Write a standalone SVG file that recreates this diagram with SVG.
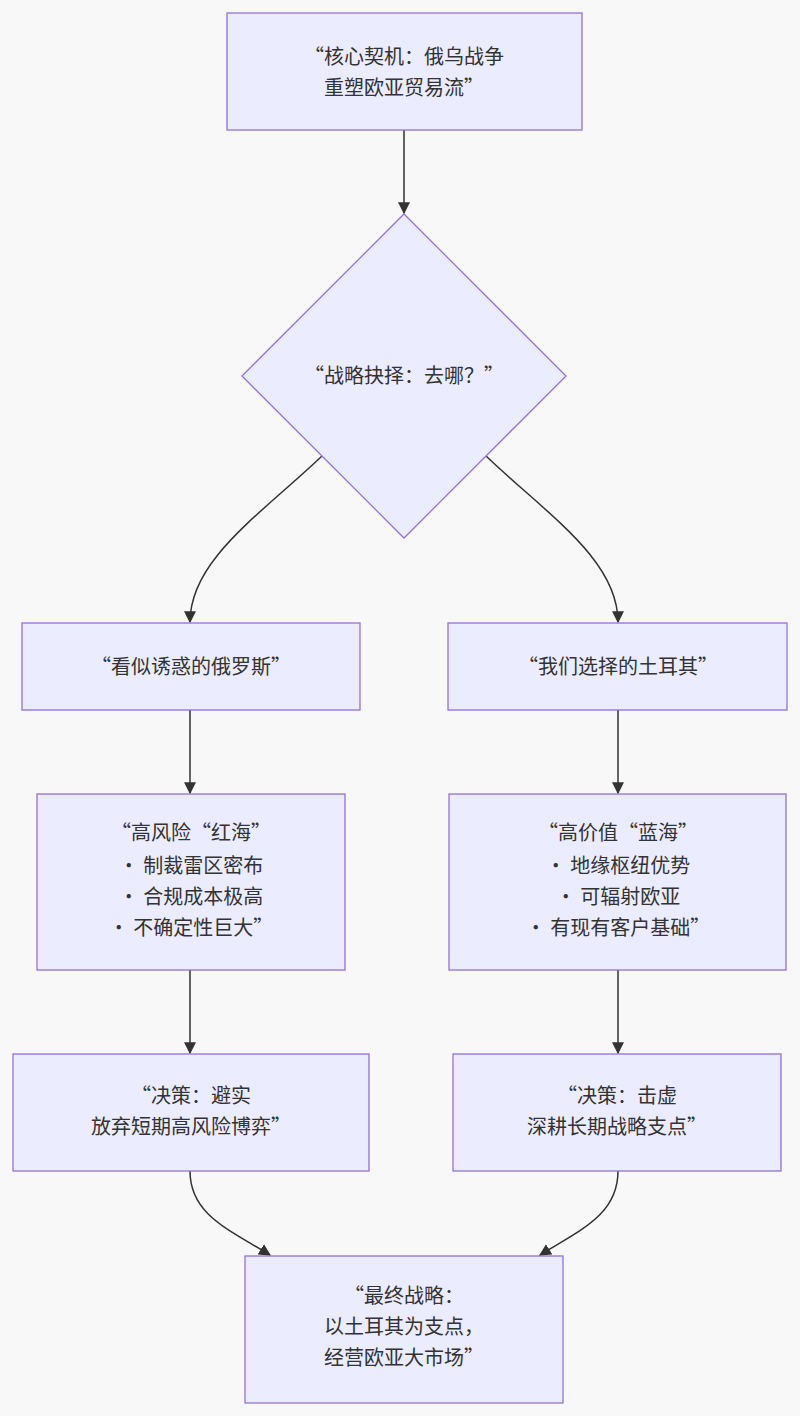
<svg xmlns="http://www.w3.org/2000/svg" width="800" height="1416" viewBox="0 0 800 1416">
<style>
.n{fill:#ececff;stroke:#9370db;stroke-width:1.3}
text{font-family:"Noto Sans CJK SC","Liberation Sans",sans-serif;font-size:20px;fill:#333;text-anchor:middle}
.e{fill:none;stroke:#333;stroke-width:1.5;marker-end:url(#a)}
</style>
<defs><marker id="a" viewBox="0 0 10 10" refX="9" refY="5" markerWidth="8" markerHeight="8" orient="auto"><path d="M0,0L10,5L0,10z" fill="#333"/></marker></defs>
<rect width="800" height="1416" fill="#f8f8f8"/>
<g id="edges">
<path class="e" d="M404,130V213"/>
<path class="e" d="M322,456C260,515 190,560 190,622"/>
<path class="e" d="M486,456C548,515 618,560 618,622"/>
<path class="e" d="M190,710V793"/>
<path class="e" d="M618,710V793"/>
<path class="e" d="M190,970V1053"/>
<path class="e" d="M618,970V1053"/>
<path class="e" d="M190,1171C190,1215 230,1230 270,1255"/>
<path class="e" d="M618,1171C618,1215 580,1230 540,1255"/>
</g>
<g id="A"><rect class="n" x="227" y="13" width="355" height="117"/><text x="404" y="64">“核心契机：俄乌战争</text><text x="404" y="95">重塑欧亚贸易流”</text></g>
<g id="B"><polygon class="n" points="404,214 566,376 404,538 242,376"/><text x="404" y="383">“战略抉择：去哪？”</text></g>
<g id="C"><rect class="n" x="22" y="623" width="338" height="87"/><text x="191" y="674">“看似诱惑的俄罗斯”</text></g>
<g id="D"><rect class="n" x="448" y="623" width="339" height="87"/><text x="618" y="674">“我们选择的土耳其”</text></g>
<g id="E"><rect class="n" x="37" y="794" width="308" height="176"/><text x="191" y="840">“高风险“红海”</text><text x="191" y="873">•  制裁雷区密布</text><text x="191" y="904">•  合规成本极高</text><text x="191" y="935">•  不确定性巨大”</text></g>
<g id="F"><rect class="n" x="449" y="794" width="337" height="176"/><text x="618" y="840">“高价值“蓝海”</text><text x="618" y="873">•  地缘枢纽优势</text><text x="618" y="904">•  可辐射欧亚</text><text x="618" y="935">•  有现有客户基础”</text></g>
<g id="G"><rect class="n" x="13" y="1054" width="356" height="117"/><text x="191" y="1103">“决策：避实</text><text x="191" y="1134">放弃短期高风险博弈”</text></g>
<g id="H"><rect class="n" x="453" y="1054" width="328" height="117"/><text x="617" y="1103">“决策：击虚</text><text x="617" y="1134">深耕长期战略支点”</text></g>
<g id="I"><rect class="n" x="245" y="1256" width="318" height="147"/><text x="404" y="1303">“最终战略：</text><text x="404" y="1334">以土耳其为支点，</text><text x="404" y="1365">经营欧亚大市场”</text></g>
</svg>
